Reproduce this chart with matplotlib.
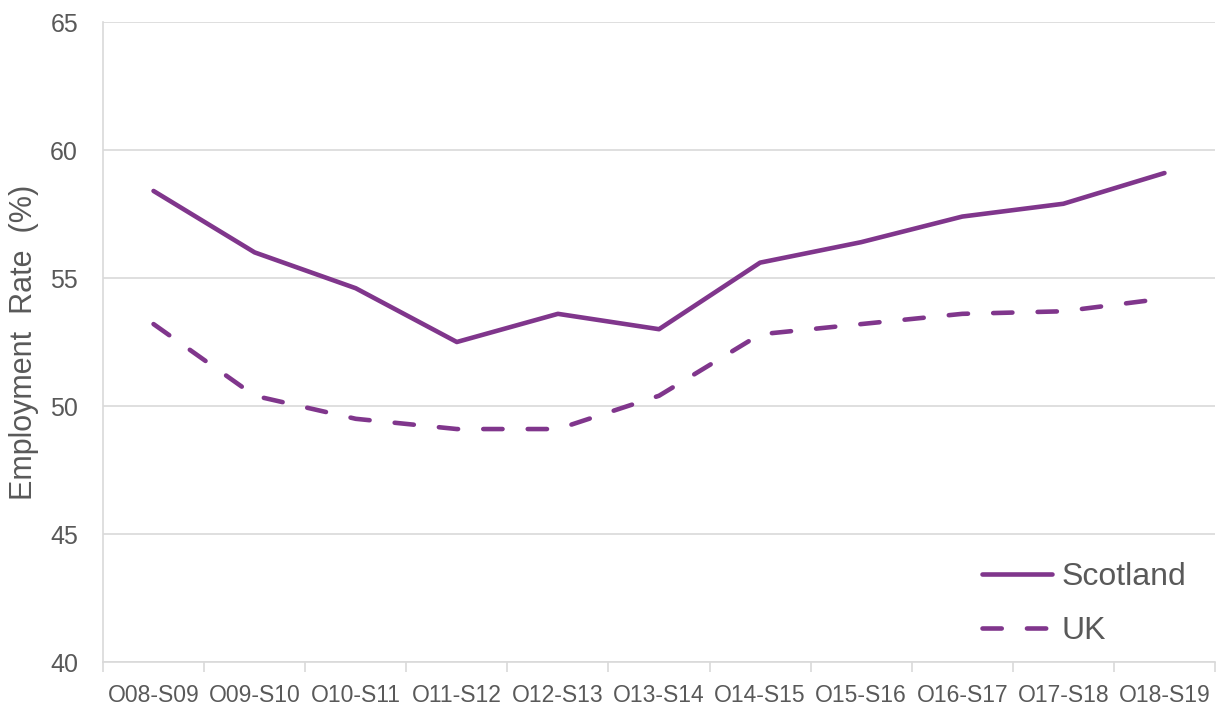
import matplotlib
matplotlib.use("Agg")
import matplotlib.pyplot as plt
import numpy as np

categories = ["O08-S09", "O09-S10", "O10-S11", "O11-S12", "O12-S13", "O13-S14",
              "O14-S15", "O15-S16", "O16-S17", "O17-S18", "O18-S19"]
scotland = [58.4, 56.0, 54.6, 52.5, 53.6, 53.0, 55.6, 56.4, 57.4, 57.9, 59.1]
uk = [53.2, 50.4, 49.5, 49.1, 49.1, 50.4, 52.8, 53.2, 53.6, 53.7, 54.2]
yticks = [40, 45, 50, 55, 60, 65]

purple = "#80368C"
text_c = "#595959"
grid_c = "#D9D9D9"

plt.rcParams['font.family'] = ['Liberation Sans', 'DejaVu Sans']

fig = plt.figure(figsize=(12.21, 7.06), dpi=100)
ax = fig.add_axes([103/1221, 1-662/706, (1215-103)/1221, (662-22)/706])

x = np.arange(len(categories))
ax.plot(x, scotland, color=purple, lw=3.3, solid_capstyle='round', solid_joinstyle='round', label="Scotland")
ax.plot(x, uk, color=purple, lw=3.3, linestyle=(0, (4.2, 5.5)), dash_capstyle='round', label="UK")

ax.set_xlim(-0.5, len(categories) - 0.5)
ax.set_ylim(40, 65)
ax.set_yticks(yticks)
ax.set_yticklabels([str(v) for v in yticks])
ax.grid(axis='y', color=grid_c, lw=1.2)
ax.set_axisbelow(True)

ax.set_xticks(x)
ax.set_xticklabels(categories)
ax.set_xticks(np.arange(-0.5, len(categories)), minor=True)
ax.tick_params(axis='x', which='major', length=0, pad=16, labelsize=16.5, labelcolor=text_c)
ax.tick_params(axis='x', which='minor', length=7, width=1.2, color=grid_c)
ax.tick_params(axis='y', length=0, pad=18, labelsize=18, labelcolor=text_c)

for s in ['top', 'right']:
    ax.spines[s].set_visible(False)
for s in ['left', 'bottom']:
    ax.spines[s].set_color(grid_c)
    ax.spines[s].set_linewidth(1.2)

ax.set_ylabel("Employment  Rate  (%)", fontsize=22, color=text_c)
ax.yaxis.set_label_coords(-0.058, 0.5)

leg = ax.legend(loc='lower right', bbox_to_anchor=(1.0, -0.02), frameon=False,
                fontsize=23, handlelength=2.2, handletextpad=0.3, labelspacing=0.75)
for t in leg.get_texts():
    t.set_color(text_c)

fig.savefig("out.png", dpi=100)
